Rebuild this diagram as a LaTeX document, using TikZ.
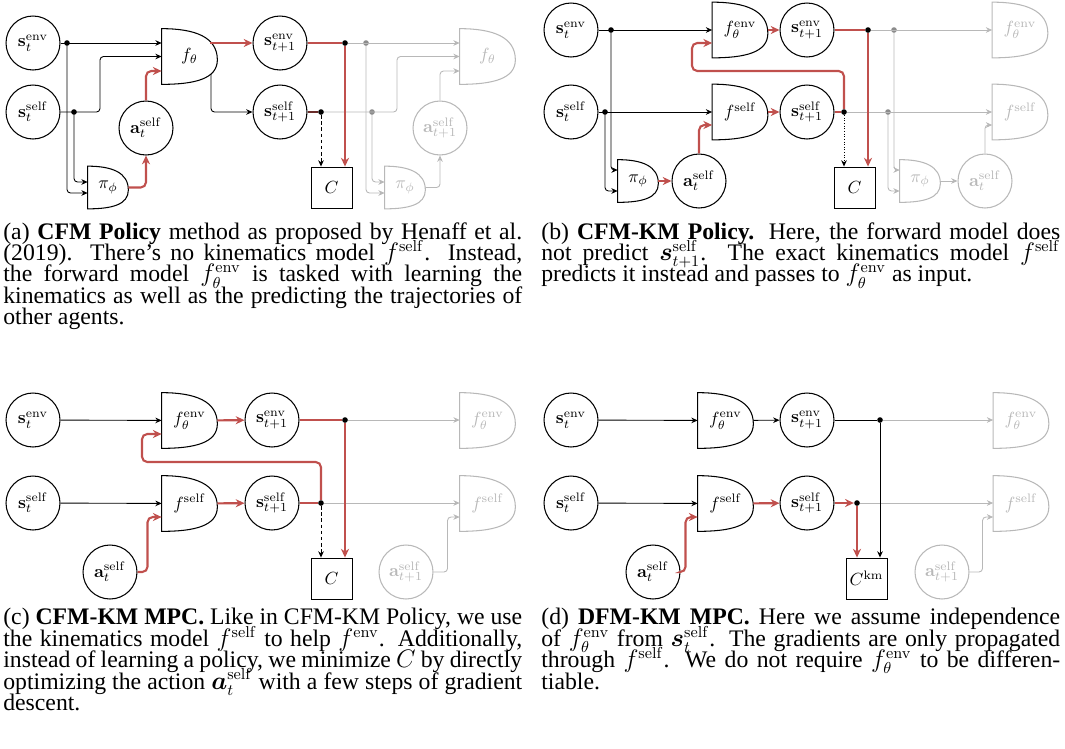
\documentclass[tikz,border=0pt]{standalone}
\usepackage{amsmath}
\usepackage[no-math]{fontspec}
\setmainfont{Liberation Serif}
\usepackage{tikz}
\usetikzlibrary{arrows.meta,calc}
\definecolor{gradred}{RGB}{192,80,77}
\definecolor{ghostgray}{gray}{0.72}

\begin{document}
\begin{tikzpicture}[
        x=0.02cm, y=-0.02cm,
        font=\fontsize{10}{12}\selectfont,
        state/.style={circle, draw, semithick, minimum size=1.08cm, inner sep=0pt},
        cost/.style={rectangle, draw, line width=0.5pt, minimum size=0.82cm, inner sep=0pt},
        gate/.style={rectangle, inner sep=0pt, minimum width=1.1cm, minimum height=1.1cm,
            append after command={\pgfextra{\draw[semithick, #1]
                (\tikzlastnode.north west) -- (\tikzlastnode.south west)
                .. controls ($(\tikzlastnode.south west)!0.6!(\tikzlastnode.south east)$)
                and ($(\tikzlastnode.south east)!0.1!(\tikzlastnode.north east)$)
                .. ($(\tikzlastnode.south east)!0.44!(\tikzlastnode.north east)$)
                .. controls ($(\tikzlastnode.south east)!0.85!(\tikzlastnode.north east)$)
                and ($(\tikzlastnode.north west)!0.6!(\tikzlastnode.north east)$)
                .. (\tikzlastnode.north west) -- cycle;}}},
        gate/.default=black,
        pol/.style={gate=#1, minimum width=0.8cm, minimum height=0.84cm},
        pol/.default=black,
        ghost/.style={draw=ghostgray, text=ghostgray},
        dot/.style={circle, fill, inner sep=0pt, minimum size=3.2pt},
        gdot/.style={dot, fill=black!45},
        conn/.style={line width=0.5pt, -{Stealth[length=3.6pt, width=3.2pt]}, rounded corners=2pt},
        grad/.style={draw=gradred, line width=1.2pt, -{Stealth[length=5pt, width=4.6pt]}, rounded corners=3pt},
        gconn/.style={conn, draw=ghostgray},
        capt/.style={text width=10.38cm, align=justify, inner sep=0pt, anchor=north west,
            font={\fontsize{13.5}{12.2}\selectfont\lineskiplimit=-10pt
                \xspaceskip=0.4em plus 0.3em minus 0.1em}}
    ]
        \useasboundingbox (0,0) rectangle (1065,748);

        % (a) CFM Policy
        \node[state] (ae) at (33,43) {$\mathbf{s}_t^{\mathrm{env}}$};
        \node[state] (as) at (33,112) {$\mathbf{s}_t^{\mathrm{self}}$};
        \node[gate] (af) at (189.5,56.5) {$f_\theta$};
        \node[state] (aa) at (146,128) {$\mathbf{a}_t^{\mathrm{self}}$};
        \node[pol] (api) at (108,187.5) {$\pi_\phi$};
        \node[state] (ae1) at (280,43) {$\mathbf{s}_{t+1}^{\mathrm{env}}$};
        \node[state] (as1) at (280,112) {$\mathbf{s}_{t+1}^{\mathrm{self}}$};
        \node[cost] (ac) at (331.5,187.5) {$C$};
        \node[gate=ghostgray, text=ghostgray] (afn) at (487.5,56.5) {$f_\theta$};
        \node[state, ghost] (aan) at (440,128) {$\mathbf{a}_{t+1}^{\mathrm{self}}$};
        \node[pol=ghostgray, text=ghostgray] (apin) at (405,187.5) {$\pi_\phi$};
        \node[dot] (ad1) at (67,43) {};
        \node[dot] (ad2) at (74,112) {};
        \node[dot] (ad3) at (345,43) {};
        \node[dot] (ad4) at (321,112) {};
        \node[gdot] (ad5) at (366,43) {};
        \node[gdot] (ad6) at (372,112) {};
        \coordinate (afo) at (210,43);
        \coordinate (afb) at (211,74);

        \draw[gconn] (ad3) -- (ad3 -| afn.west);
        \draw[gconn] (ad5) |- (apin.west |- 0,193);
        \draw[gconn] (ad4) -- (397,112) |- (afn.west);
        \draw[gconn] (ad6) |- (apin.west |- 0,182);
        \draw[gconn] (apin) -| (aan);
        \draw[gconn] (aan) |- (afn.west |- 0,71);
        \draw[conn] (ae) -- (ae -| af.west);
        \draw[conn] (ad1) |- (api.west |- 0,193);
        \draw[conn] (as) -- (100,112) |- (af.west);
        \draw[conn] (ad2) |- (api.west |- 0,182);
        \draw[conn] (afb) |- (as1);
        \draw[semithick, draw=gradred!55!black] (as1) -- (ad4);
        \draw[conn, dash pattern=on 2pt off 1.5pt] (ad4) -- (ad4 |- ac.north);
        \draw[grad] (api) -| (aa);
        \draw[grad] (aa) |- (af.west |- 0,71);
        \draw[grad] (afo) -- (ae1);
        \draw[grad, -] (ae1) -- (ad3);
        \draw[grad] (ad3) -- (ad3 |- ac.north);

        % (b) CFM-KM Policy
        \node[state] (be) at (571,30) {$\mathbf{s}_t^{\mathrm{env}}$};
        \node[state] (bs) at (571,112) {$\mathbf{s}_t^{\mathrm{self}}$};
        \node[gate] (bfe) at (740,30) {$f_\theta^{\mathrm{env}}$};
        \node[gate] (bfs) at (740,112) {$f^{\mathrm{self}}$};
        \node[pol] (bpi) at (638,181) {$\pi_\phi$};
        \node[state] (ba) at (699,181) {$\mathbf{a}_t^{\mathrm{self}}$};
        \node[state] (be1) at (807,30) {$\mathbf{s}_{t+1}^{\mathrm{env}}$};
        \node[state] (bs1) at (807,112) {$\mathbf{s}_{t+1}^{\mathrm{self}}$};
        \node[cost] (bc) at (854.5,187.5) {$C$};
        \node[gate=ghostgray, text=ghostgray] (bfen) at (1020,30) {$f_\theta^{\mathrm{env}}$};
        \node[gate=ghostgray, text=ghostgray] (bfsn) at (1020,112) {$f^{\mathrm{self}}$};
        \node[pol=ghostgray, text=ghostgray] (bpin) at (920,181) {$\pi_\phi$};
        \node[state, ghost] (ban) at (985,181) {$\mathbf{a}_t^{\mathrm{self}}$};
        \node[dot] (bd1) at (611,30) {};
        \node[dot] (bd2) at (605,112) {};
        \node[dot] (bd3) at (868,30) {};
        \node[dot] (bd4) at (844,112) {};
        \node[gdot] (bd5) at (894,30) {};
        \node[gdot] (bd6) at (888,112) {};

        \draw[gconn] (bd3) -- (bd3 -| bfen.west);
        \draw[gconn] (bd5) |- (bpin.west |- 0,170);
        \draw[gconn] (bd4) -- (bd4 -| bfsn.west);
        \draw[gconn] (bd6) |- (bpin.west |- 0,191);
        \draw[gconn] (bpin) -- (ban);
        \draw[gconn] (ban) |- (bfsn.west |- 0,125);
        \draw[conn] (be) -- (bfe);
        \draw[conn] (bd1) |- (bpi.west |- 0,170);
        \draw[conn] (bs) -- (bfs);
        \draw[conn] (bd2) |- (bpi.west |- 0,191);
        \draw[conn, densely dotted] (bd4) -- (bd4 |- bc.north);
        \draw[grad] (bpi) -- (ba);
        \draw[grad] (ba) |- (bfs.west |- 0,125);
        \draw[grad] (bfe) -- (be1);
        \draw[grad] (bfs) -- (bs1);
        \draw[grad, -] (be1) -- (bd3);
        \draw[grad] (bd3) -- (bd3 |- bc.north);
        \draw[grad, -] (bs1) -- (bd4);
        \draw[grad] (bd4) |- (692,71) |- (bfe.west |- 0,43);

        % (c) CFM-KM MPC
        \node[state] (ce) at (33,420) {$\mathbf{s}_t^{\mathrm{env}}$};
        \node[state] (cs) at (33,503) {$\mathbf{s}_t^{\mathrm{self}}$};
        \node[gate] (cfe) at (189.5,420.5) {$f_\theta^{\mathrm{env}}$};
        \node[gate] (cfs) at (189.5,503.5) {$f^{\mathrm{self}}$};
        \node[state] (ca) at (110,572) {$\mathbf{a}_t^{\mathrm{self}}$};
        \node[state] (ce1) at (272,420) {$\mathbf{s}_{t+1}^{\mathrm{env}}$};
        \node[state] (cs1) at (272,503) {$\mathbf{s}_{t+1}^{\mathrm{self}}$};
        \node[cost] (cc) at (331.5,578.5) {$C$};
        \node[gate=ghostgray, text=ghostgray] (cfen) at (487.5,420.5) {$f_\theta^{\mathrm{env}}$};
        \node[gate=ghostgray, text=ghostgray] (cfsn) at (487.5,503.5) {$f^{\mathrm{self}}$};
        \node[state, ghost] (can) at (406,572) {$\mathbf{a}_{t+1}^{\mathrm{self}}$};
        \node[dot] (cd1) at (345,420) {};
        \node[dot] (cd2) at (321,503) {};

        \draw[gconn] (cd1) -- (cd1 -| cfen.west);
        \draw[gconn] (cd2) -- (cd2 -| cfsn.west);
        \draw[gconn] (can.east) -- ++(14,0) |- (cfsn.west |- 0,517);
        \draw[conn] (ce) -- (cfe);
        \draw[conn] (cs) -- (cfs);
        \draw[conn, dash pattern=on 2pt off 1.5pt] (cd2) -- (cd2 |- cc.north);
        \draw[grad] (ca.east) -- ++(10,0) |- (cfs.west |- 0,517);
        \draw[grad] (cfe) -- (ce1);
        \draw[grad] (cfs) -- (cs1);
        \draw[grad, -] (ce1) -- (cd1);
        \draw[grad] (cd1) -- (cd1 |- cc.north);
        \draw[grad, -] (cs1) -- (cd2);
        \draw[grad] (cd2) |- (142,462) |- (cfe.west |- 0,434);

        % (d) DFM-KM MPC
        \node[state] (de) at (571,420) {$\mathbf{s}_t^{\mathrm{env}}$};
        \node[state] (ds) at (571,503) {$\mathbf{s}_t^{\mathrm{self}}$};
        \node[gate] (dfe) at (725.5,420.5) {$f_\theta^{\mathrm{env}}$};
        \node[gate] (dfs) at (725.5,503.5) {$f^{\mathrm{self}}$};
        \node[state] (da) at (653,572) {$\mathbf{a}_t^{\mathrm{self}}$};
        \node[state] (de1) at (807,420) {$\mathbf{s}_{t+1}^{\mathrm{env}}$};
        \node[state] (ds1) at (807,503) {$\mathbf{s}_{t+1}^{\mathrm{self}}$};
        \node[cost] (dc) at (866.5,578.5) {$C^{\mathrm{km}}$};
        \node[gate=ghostgray, text=ghostgray] (dfen) at (1021,420.5) {$f_\theta^{\mathrm{env}}$};
        \node[gate=ghostgray, text=ghostgray] (dfsn) at (1021,503.5) {$f^{\mathrm{self}}$};
        \node[state, ghost] (dan) at (942,572) {$\mathbf{a}_{t+1}^{\mathrm{self}}$};
        \node[dot] (dd1) at (880,420) {};
        \node[dot] (dd2) at (857,503) {};

        \draw[gconn] (dd1) -- (dd1 -| dfen.west);
        \draw[gconn] (dd2) -- (dd2 -| dfsn.west);
        \draw[gconn] (dan.east) -- ++(13,0) |- (dfsn.west |- 0,517);
        \draw[conn] (de) -- (dfe);
        \draw[conn] (ds) -- (dfs);
        \draw[conn] (dfe) -- (de1);
        \draw[conn, -] (de1) -- (dd1);
        \draw[conn] (dd1) -- (dd1 |- dc.north);
        \draw[grad] (da.east) -- ++(5,0) |- (dfs.west |- 0,517);
        \draw[grad] (dfs) -- (ds1);
        \draw[grad] (ds1) -- (dd2);
        \draw[grad] (dd2) -- (dd2 |- dc.north);

        % captions
        \node[capt] (capa) at (3,222) {(a) \textbf{CFM Policy} method as proposed by Henaff et al. (2019). There's no kinematics model $f^{\mathrm{self}}$. Instead,\linebreak the forward model $f_\theta^{\mathrm{env}}$ is tasked with learning the\linebreak kinematics as well as the predicting the trajectories of\linebreak other agents.};
        \node[capt] (capb) at (541,222) {(b) \textbf{CFM-KM Policy.} Here, the forward model does not predict $\boldsymbol{s}_{t+1}^{\mathrm{self}}$. The exact kinematics model $f^{\mathrm{self}}$\linebreak predicts it instead and passes to $f_\theta^{\mathrm{env}}$ as input.};
        \node[capt] (capc) at (3,608) {(c) \textbf{CFM-KM MPC.} Like in CFM-KM Policy, we use the kinematics model $f^{\mathrm{self}}$ to help $f^{\mathrm{env}}$. Additionally, instead of learning a policy, we minimize $C$ by directly optimizing the action $\boldsymbol{a}_t^{\mathrm{self}}$ with a few steps of gradient descent.};
        \node[capt] (capd) at (541,608) {(d) \textbf{DFM-KM MPC.} Here we assume independence of $f_\theta^{\mathrm{env}}$ from $\boldsymbol{s}_t^{\mathrm{self}}$. The gradients are only propagated through $f^{\mathrm{self}}$. We do not require $f_\theta^{\mathrm{env}}$ to be differentiable.};
    \end{tikzpicture}
\end{document}
